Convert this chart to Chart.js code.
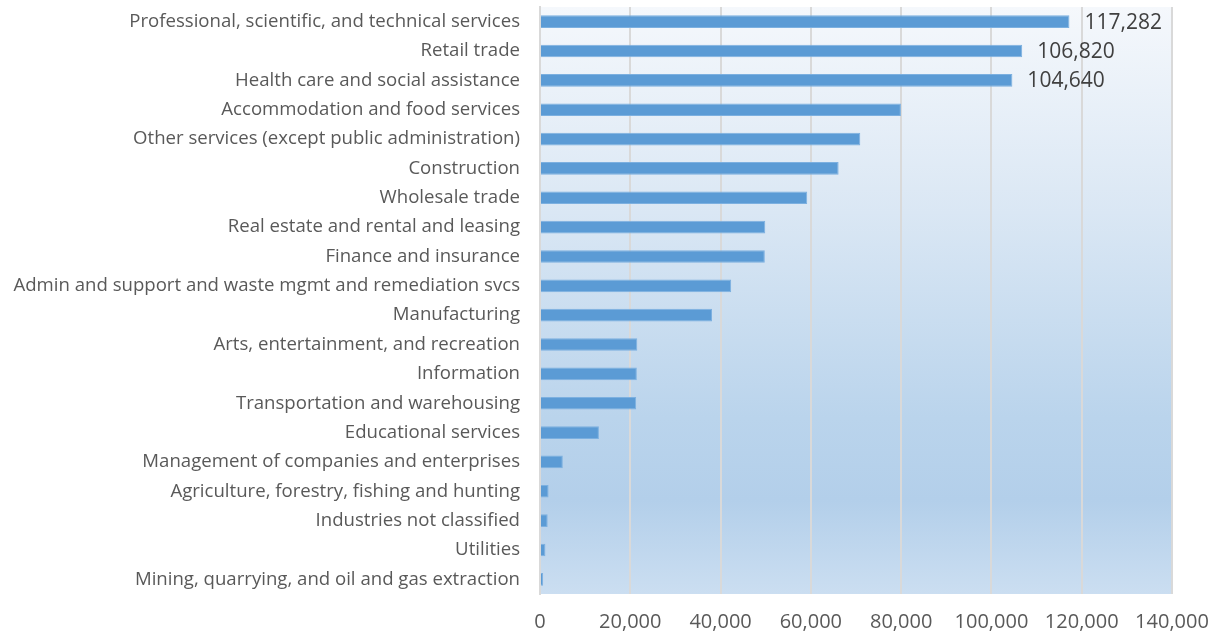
<!DOCTYPE html>
<html>
<head>
<meta charset="utf-8">
<script src="https://cdn.jsdelivr.net/npm/chart.js@4/dist/chart.umd.min.js"></script>
<style>
  html, body { margin: 0; padding: 0; background: #fff; }
  #wrap { width: 1231px; height: 636px; position: relative; }
</style>
</head>
<body>
<div id="wrap"><canvas id="chart"></canvas></div>
<script>
// industries, sorted largest first
const industries = [
  'Professional, scientific, and technical services',
  'Retail trade',
  'Health care and social assistance',
  'Accommodation and food services',
  'Other services (except public administration)',
  'Construction',
  'Wholesale trade',
  'Real estate and rental and leasing',
  'Finance and insurance',
  'Admin and support and waste mgmt and remediation svcs',
  'Manufacturing',
  'Arts, entertainment, and recreation',
  'Information',
  'Transportation and warehousing',
  'Educational services',
  'Management of companies and enterprises',
  'Agriculture, forestry, fishing and hunting',
  'Industries not classified',
  'Utilities',
  'Mining, quarrying, and oil and gas extraction'
];
const counts = [117282, 106820, 104640, 79950, 70950, 66150, 59200, 49900, 49800, 42350,
                38100, 21550, 21450, 21300, 13050, 5050, 1900, 1700, 1200, 700];
// only the top three bars carry a value label
const labelledBars = [0, 1, 2];
const xTicks = [0, 20000, 40000, 60000, 80000, 100000, 120000, 140000];

const FONT = '"Open Sans", Lato, sans-serif';

// gradient fill behind the plot area
const plotBackground = {
  id: 'plotBackground',
  beforeDraw(chart) {
    const { ctx, chartArea: a } = chart;
    const g = ctx.createLinearGradient(0, a.top, 0, a.bottom);
    g.addColorStop(0, '#f5f8fc');
    g.addColorStop(0.35, '#dae7f4');
    g.addColorStop(0.7, '#bad4ec');
    g.addColorStop(0.84, '#b3cfea');
    g.addColorStop(1, '#cbdef1');
    ctx.save();
    ctx.fillStyle = g;
    ctx.fillRect(a.left, a.top, a.right - a.left, a.bottom - a.top);
    ctx.restore();
  }
};

const valueLabels = {
  id: 'valueLabels',
  afterDatasetsDraw(chart) {
    const { ctx } = chart;
    const bars = chart.getDatasetMeta(0).data;
    ctx.save();
    ctx.font = '21px ' + FONT;
    ctx.fillStyle = '#404040';
    ctx.textAlign = 'left';
    ctx.textBaseline = 'middle';
    labelledBars.forEach(i => {
      const b = bars[i];
      ctx.fillText(counts[i].toLocaleString('en-US'), b.x + 15, b.y + 1);
    });
    ctx.restore();
  }
};

new Chart(document.getElementById('chart'), {
  type: 'bar',
  data: {
    labels: industries,
    datasets: [{
      data: counts,
      backgroundColor: '#5b9bd5',
      borderColor: '#7cb0e0',
      borderWidth: 1,
      borderSkipped: 'left',
      barPercentage: 0.43,
      categoryPercentage: 1
    }]
  },
  options: {
    indexAxis: 'y',
    responsive: true,
    maintainAspectRatio: false,
    animation: false,
    layout: { padding: { top: 7, right: 59, left: 0, bottom: 0 } },
    plugins: { legend: { display: false }, tooltip: { enabled: false } },
    scales: {
      x: {
        min: 0,
        max: 140000,
        afterBuildTicks(scale) { scale.ticks = xTicks.map(v => ({ value: v })); },
        afterFit(scale) { scale.height = 42; },
        grid: { color: '#d9d9d9', lineWidth: 2, drawTicks: false },
        border: { display: false },
        ticks: {
          padding: 16,
          color: '#595959',
          font: { family: FONT, size: 20 },
          maxRotation: 0,
          callback: v => v.toLocaleString('en-US')
        }
      },
      y: {
        afterFit(scale) {
          scale.width = 540;
          scale.paddingTop = 0;
          scale.paddingBottom = 0;
        },
        grid: { display: false, drawTicks: false },
        border: { display: true, color: '#d9d9d9', width: 2 },
        ticks: {
          padding: 20,
          color: '#595959',
          font: { family: FONT, size: 18.6 },
          autoSkip: false
        }
      }
    }
  },
  plugins: [plotBackground, valueLabels]
});
</script>
</body>
</html>
